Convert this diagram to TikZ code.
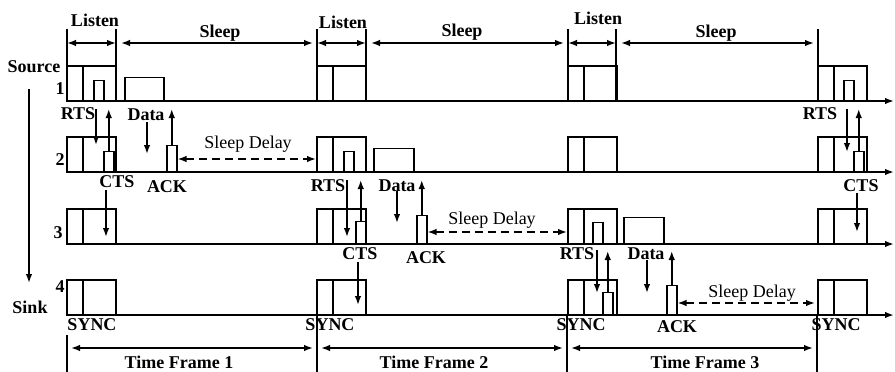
\documentclass[tikz,border=0pt]{standalone}
\usepackage{fontspec}
\setmainfont{Liberation Serif}
\usetikzlibrary{arrows.meta}

\begin{document}
\begin{tikzpicture}[x=1pt, y=-1pt, line width=1.5pt,
    >={Latex[length=9pt,width=6.5pt]},
    every node/.style={font=\bfseries\fontsize{18}{20}\selectfont, inner sep=0pt},
    tline/.style={line width=2.1pt, ->},
    pkt/.style={draw, line width=1.5pt, anchor=south west, minimum width=10pt},
    delay/.style={<->, dash pattern=on 8pt off 5pt},
    delaytext/.style={font=\mdseries\fontsize{18}{20}\selectfont}]
\useasboundingbox (0,0) rectangle (895,372);

% Time lines of the four nodes
\foreach \y in {101,172,244,315}
  \draw[tline] (67,\y) -- (894,\y);

% Listen periods (SYNC + data part) of every node in every frame
\foreach \f in {67,317,568,818}
  \foreach \y in {101,172,244,315} {
    \draw (\f,\y) rectangle (\f+16,\y-35);
    \draw (\f+16,\y) rectangle (\f+49,\y-35);
  }

% Listen / Sleep marks on top
\foreach \x in {67,116,317,366,568,616,818}
  \draw (\x,29) -- (\x,101);
\draw[<->] (67,43) -- (116,43);
\draw[<->] (121,43) -- (313,43);
\draw[<->] (317,43) -- (366,43);
\draw[<->] (371,43) -- (564,43);
\draw[<->] (568,43) -- (616,43);
\draw[<->] (621,43) -- (814,43);
\node (listen1) at (95,20) {Listen};
\node (sleep1) at (220,33) {Sleep};
\node (listen2) at (343,22) {Listen};
\node (sleep2) at (462,32) {Sleep};
\node (listen3) at (598,18) {Listen};
\node (sleep3) at (716,33) {Sleep};

% Nodes from source to sink
\node (src) at (34,67) {Source};
\node (n1) at (60,89) {1};
\node (n2) at (60,160) {2};
\node (n3) at (58,233) {3};
\node (n4) at (60,287) {4};
\node (sink) at (30,307) {Sink};
\draw[->] (29,89) -- (29,283);

% Frame 1: node 1 -> node 2
\node[pkt, minimum height=20pt] (rts1) at (93,101) {};
\node[pkt, minimum width=39pt, minimum height=23pt] (data1) at (124,101) {};
\node[pkt, minimum height=20pt] (cts1) at (103,172) {};
\node[pkt, minimum height=26pt] (ack1) at (166,172) {};
\node (rtsl1) at (78,114) {RTS};
\node (datal1) at (146,115) {Data};
\node (ctsl1) at (117,182) {CTS};
\node (ackl1) at (167,187) {ACK};
\draw[->] (96,109) -- (96,145);
\draw[->] (cts1.north) -- (cts1.north |- 0,109);
\draw[->] (147,122) -- (147,154);
\draw[->] (ack1.north) -- (ack1.north |- 0,109);
\draw[->] (106,190) -- (106,237);
\draw[delay] (ack1.east |- 0,159) -- (316,159);
\node[delaytext] (sd1) at (248,144) {Sleep Delay};

% Frame 2: node 2 -> node 3
\node[pkt, minimum height=20pt] (rts2) at (343,172) {};
\node[pkt, minimum width=40pt, minimum height=23pt] (data2) at (373,172) {};
\node[pkt, minimum height=22pt] (cts2) at (355,244) {};
\node[pkt, minimum height=28pt] (ack2) at (416,244) {};
\node (rtsl2) at (328,186) {RTS};
\node (datal2) at (397,186) {Data};
\node (ctsl2) at (360,254) {CTS};
\node (ackl2) at (426,258) {ACK};
\draw[->] (347,180) -- (347,237);
\draw[->] (cts2.north) -- (cts2.north |- 0,180);
\draw[->] (397,191) -- (397,223);
\draw[->] (ack2.north) -- (ack2.north |- 0,180);
\draw[->] (358,262) -- (358,305);
\draw[delay] (ack2.east |- 0,232) -- (567,232);
\node[delaytext] (sd2) at (492,220) {Sleep Delay};

% Frame 3: node 3 -> node 4
\node[pkt, minimum height=21pt] (rts3) at (592,244) {};
\node[pkt, minimum width=40pt, minimum height=26pt] (data3) at (623,244) {};
\node[pkt, minimum height=22pt] (cts3) at (602,315) {};
\node[pkt, minimum height=29pt] (ack3) at (666,315) {};
\node (rtsl3) at (577,254) {RTS};
\node (datal3) at (646,254) {Data};
\node (ackl3) at (677,327) {ACK};
\draw[->] (597,250) -- (597,293);
\draw[->] (cts3.north) -- (cts3.north |- 0,251);
\draw[->] (647,260) -- (647,293);
\draw[->] (ack3.north) -- (ack3.north |- 0,251);
\draw[delay] (ack3.east |- 0,303) -- (815,303);
\node[delaytext] (sd3) at (752,293) {Sleep Delay};

% Frame 4: node 1 -> node 2 again
\node[pkt, minimum height=20pt] (rts4) at (843,101) {};
\node[pkt, minimum height=20pt] (cts4) at (853,172) {};
\node (rtsl4) at (820,114) {RTS};
\node (ctsl4) at (861,186) {CTS};
\draw[->] (847,109) -- (847,152);
\draw[->] (cts4.north) -- (cts4.north |- 0,109);
\draw[->] (857,193) -- (857,232);

% SYNC labels and time frames
\node (sync1) at (92,325) {SYNC};
\node (sync2) at (330,325) {SYNC};
\node (sync3) at (581,325) {SYNC};
\node (sync4) at (836,325) {SYNC};
\draw (67,335) -- (67,372);
\draw (317,315) -- (317,372);
\draw (567,315) -- (567,372);
\draw (817,315) -- (817,372);
\draw[<->] (71,348) -- (313,348);
\draw[<->] (321,348) -- (563,348);
\draw[<->] (571,348) -- (813,348);
\node (tf1) at (179,362) {Time Frame 1};
\node (tf2) at (434,362) {Time Frame 2};
\node (tf3) at (705,362) {Time Frame 3};
\end{tikzpicture}
\end{document}
